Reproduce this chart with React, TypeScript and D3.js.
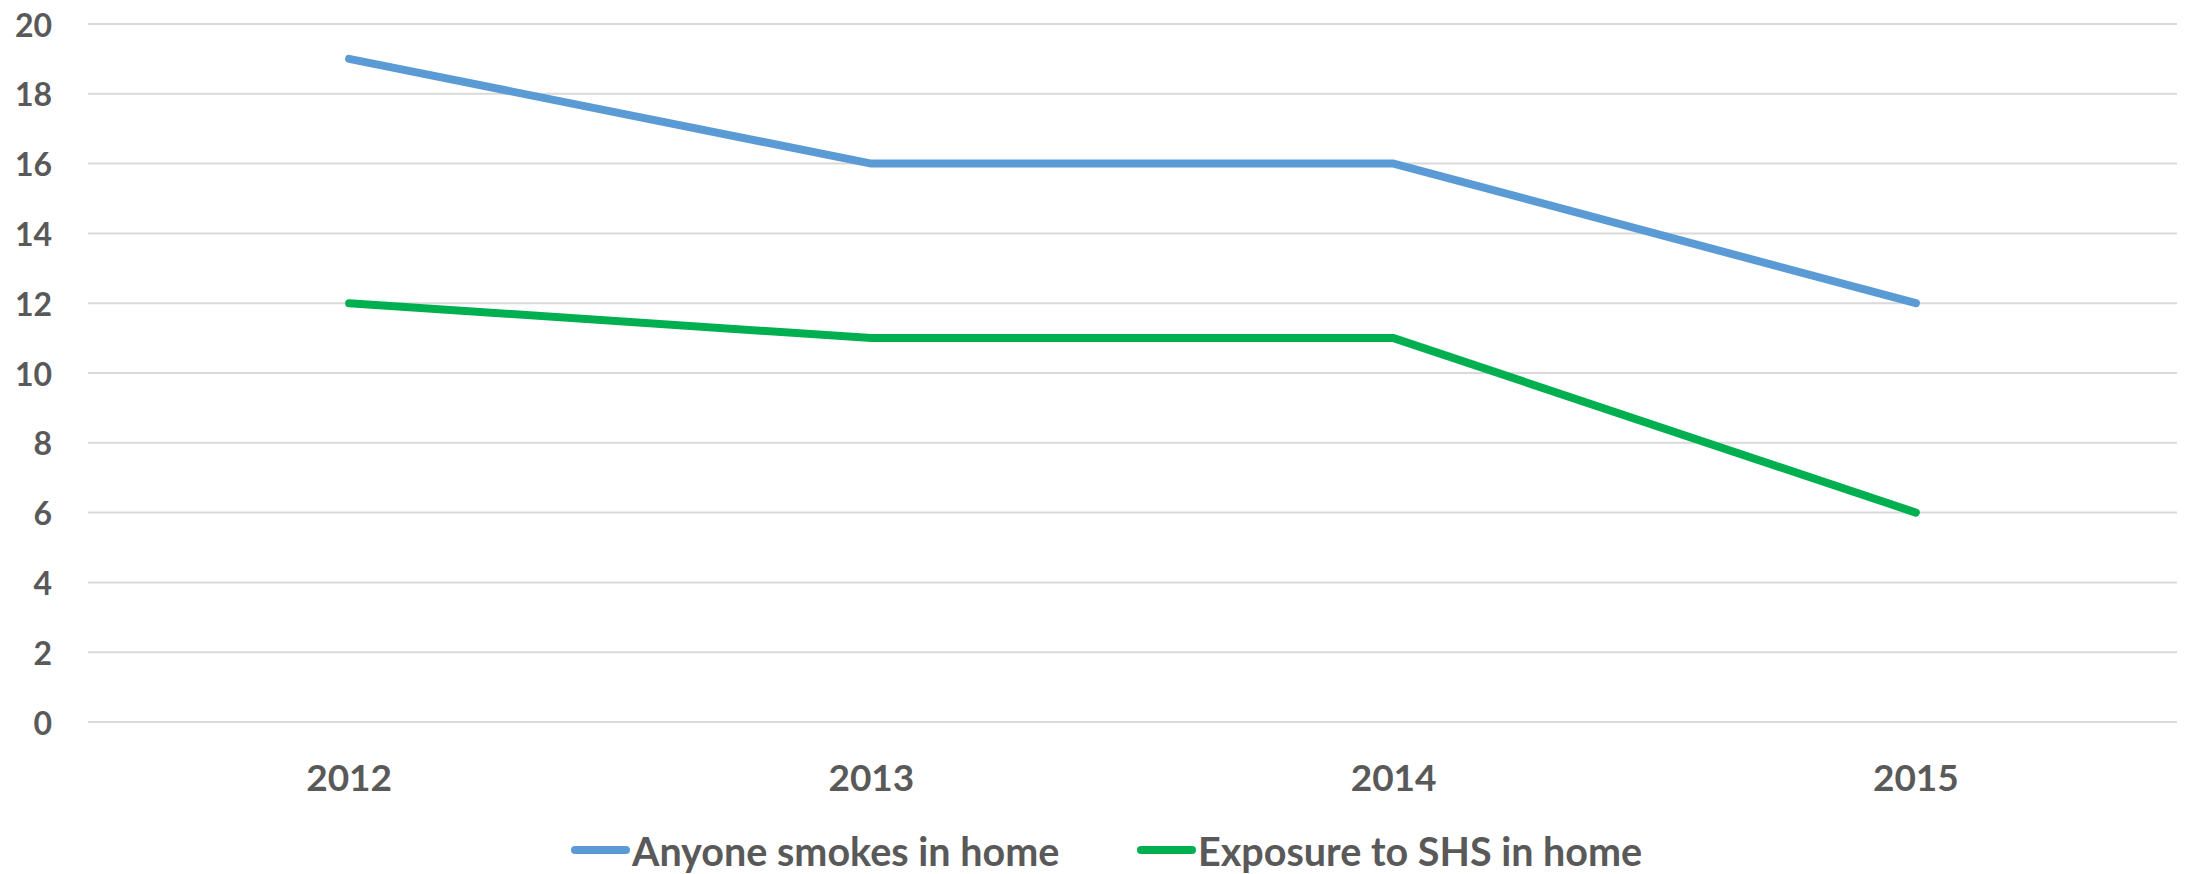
import React from "react";
import * as d3 from "d3";

const categories = ["2012", "2013", "2014", "2015"];
const anyoneSmokes = [19, 16, 16, 12];
const exposureSHS = [12, 11, 11, 6];
const yTicks = [0, 2, 4, 6, 8, 10, 12, 14, 16, 18, 20];
const seriesNames = ["Anyone smokes in home", "Exposure to SHS in home"];
const seriesColors = ["#5B9BD5", "#00B050"];

const W = 2188;
const H = 874;
const left = 88;
const right = 2177;
const top = 24;
const bottom = 722;
const font = "Lato, 'Open Sans', sans-serif";
const textColor = "#595959";

export default function App() {
  const x = d3.scaleBand<string>().domain(categories).range([left, right]);
  const y = d3.scaleLinear().domain([0, 20]).range([bottom, top]);
  const line = d3
    .line<number>()
    .x((_, i) => (x(categories[i]) as number) + x.bandwidth() / 2)
    .y((d) => y(d));
  const series = [anyoneSmokes, exposureSHS];

  return (
    <svg
      width={W}
      height={H}
      style={{ position: "absolute", left: 0, top: 0, display: "block", background: "#fff" }}
    >
      {yTicks.map((t) => (
        <g key={t}>
          <line x1={left} x2={right} y1={y(t)} y2={y(t)} stroke="#D9D9D9" strokeWidth={2} />
          <text
            x={52}
            y={y(t)}
            textAnchor="end"
            dominantBaseline="central"
            fontFamily={font}
            fontWeight={700}
            fontSize={32}
            fill={textColor}
          >
            {t}
          </text>
        </g>
      ))}
      {categories.map((c) => (
        <text
          key={c}
          x={(x(c) as number) + x.bandwidth() / 2}
          y={791}
          textAnchor="middle"
          fontFamily={font}
          fontWeight={700}
          fontSize={37}
          fill={textColor}
        >
          {c}
        </text>
      ))}
      {series.map((s, i) => (
        <path
          key={i}
          d={line(s) as string}
          fill="none"
          stroke={seriesColors[i]}
          strokeWidth={8}
          strokeLinecap="round"
          strokeLinejoin="round"
        />
      ))}
      {[571, 1137].map((lx, i) => (
        <g key={i}>
          <line
            x1={lx + 4}
            x2={lx + 55}
            y1={850}
            y2={850}
            stroke={seriesColors[i]}
            strokeWidth={8}
            strokeLinecap="round"
          />
          <text
            x={lx + 61}
            y={866}
            fontFamily={font}
            fontWeight={700}
            fontSize={39.5}
            fill={textColor}
          >
            {seriesNames[i]}
          </text>
        </g>
      ))}
    </svg>
  );
}
